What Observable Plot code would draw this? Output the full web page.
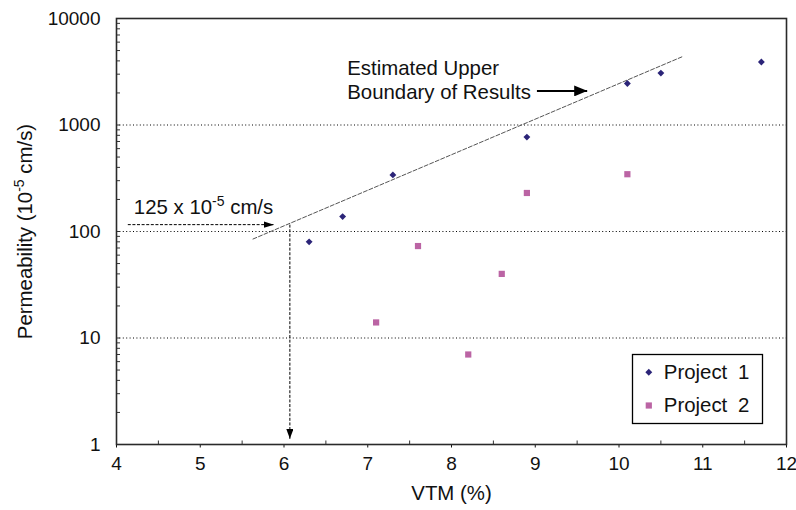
<!DOCTYPE html>
<html><head><meta charset="utf-8">
<script src="https://cdn.jsdelivr.net/npm/d3@7"></script>
<script src="https://cdn.jsdelivr.net/npm/@observablehq/plot@0.6"></script>
<style>body{margin:0;background:#fff} #chart{width:796px;height:510px}</style>
</head><body><div id="chart"></div>
<script>
// ---- data ----
const seriesNames = ["Project 1", "Project 2"];
const p1VTM  = [6.3, 6.7, 7.3, 8.9, 10.1, 10.5, 11.7];
const p1Perm = [80, 138, 340, 770, 2450, 3070, 3900];
const p2VTM  = [7.1, 7.6, 8.2, 8.6, 8.9, 10.1];
const p2Perm = [14, 73, 7, 40, 230, 345];
const boundaryVTM  = [5.63, 10.75];
const boundaryPerm = [85, 4360];
const xTicks = [4, 5, 6, 7, 8, 9, 10, 11, 12];
const xMinorTicks = [4.5, 5.5, 6.5, 7.5, 8.5, 9.5, 10.5, 11.5];
const yTicks = [1, 10, 100, 1000, 10000];
const gridY = [10, 100, 1000];
const xLabel = "VTM (%)";
const yLabel = "Permeability (10-5 cm/s)";
// annotations (data coordinates)
const readLabel = "125 x 10-5 cm/s";
const readLabelAt = [4.207, 169];
const readHArrow = [4.135, 5.88, 116];      // x1, x2, y
const readVArrow = [6.07, 116, 1.13];       // x, y1, y2
const boundaryLabel = "Estimated Upper\nBoundary of Results";
const boundaryLabelAt = [6.755, 2663];
const boundaryArrow = [9.02, 9.62, 2090];   // x1, x2, y

const navy = "#2b2478", pink = "#bb64a4";
const font = "'Liberation Sans', Arial, Helvetica, sans-serif";
const annoSize = 20.4;
const tickSize = 19;

const yMinorTicks = [];
for (const d of [1, 10, 100, 1000]) for (let k = 1; k <= 9; k++) yMinorTicks.push(d * k);
yMinorTicks.push(10000);

const p1 = p1VTM.map((x, i) => ({x, y: p1Perm[i]}));
const p2 = p2VTM.map((x, i) => ({x, y: p2Perm[i]}));
const boundary = boundaryVTM.map((x, i) => ({x, y: boundaryPerm[i]}));

function headMarker(len, half) {
  return () => {
    const m = d3.create("svg:marker")
      .attr("viewBox", `0 ${-half} ${len} ${2 * half}`)
      .attr("refX", len).attr("refY", 0)
      .attr("markerWidth", len).attr("markerHeight", 2 * half)
      .attr("markerUnits", "userSpaceOnUse")
      .attr("orient", "auto");
    m.append("path").attr("d", `M0,${-half}L${len},0L0,${half}Z`)
      .attr("fill", "#000").attr("stroke", "none");
    return m.node();
  };
}

const W = 796, H = 510, mL = 116, mR = 10, mT = 18, mB = 66;
const fw = W - mL - mR, fh = H - mT - mB;

const chart = Plot.plot({
  width: W, height: H,
  marginLeft: mL, marginRight: mR, marginTop: mT, marginBottom: mB,
  style: {fontFamily: font, fontSize: tickSize + "px", color: "#111", background: "#fff"},
  x: {domain: [4, 12]},
  y: {type: "log", domain: [1, 10000]},
  marks: [
    Plot.ruleY(gridY, {stroke: "#000", strokeDasharray: "1,2.4", strokeWidth: 1.1}),
    Plot.line(boundary, {x: "x", y: "y", stroke: "#555", strokeWidth: 1, strokeDasharray: "4,2"}),
    Plot.link([readHArrow], {x1: d => d[0], x2: d => d[1], y1: d => d[2], y2: d => d[2],
      stroke: "#000", strokeWidth: 1, strokeDasharray: "3,1.6", markerEnd: headMarker(10, 3.2)}),
    Plot.link([readVArrow], {x1: d => d[0], x2: d => d[0], y1: d => d[1], y2: d => d[2],
      stroke: "#000", strokeWidth: 1, strokeDasharray: "3,1.6", markerEnd: headMarker(10, 3.6)}),
    Plot.link([boundaryArrow], {x1: d => d[0], x2: d => d[1], y1: d => d[2], y2: d => d[2],
      stroke: "#000", strokeWidth: 2, markerEnd: headMarker(13, 5.5)}),
    Plot.text([readLabel], {x: () => readLabelAt[0], y: () => readLabelAt[1], text: d => d,
      textAnchor: "start", lineAnchor: "middle", fontSize: annoSize, fill: "#111"}),
    Plot.text([boundaryLabel], {x: () => boundaryLabelAt[0], y: () => boundaryLabelAt[1], text: d => d,
      textAnchor: "start", lineAnchor: "middle", lineHeight: 1.15, fontSize: annoSize, fill: "#111"}),
    Plot.dot(p1, {x: "x", y: "y", symbol: "diamond2", r: 3.1, fill: navy, stroke: null}),
    Plot.dot(p2, {x: "x", y: "y", symbol: "square", r: 3.5, fill: pink, stroke: null}),
    // inward minor ticks
    Plot.tickX(xMinorTicks, {x: d => d, insetTop: fh - 3.5, stroke: "#333"}),
    Plot.tickY(yMinorTicks, {y: d => d, insetRight: fw - 4, stroke: "#333"}),
    Plot.axisX({ticks: xTicks, tickSize: 3.5, tickPadding: 8, tickFormat: d => String(d), label: null, fontSize: tickSize}),
    Plot.axisY({ticks: yTicks, tickSize: 0, tickPadding: 16, tickFormat: d => String(d), label: null, fontSize: tickSize}),
    Plot.frame({stroke: "#2a2a2a", strokeWidth: 1.6}),
    // legend
    Plot.frame({fill: "#fff", stroke: "#000", strokeWidth: 1.3,
      insetLeft: 632 - mL, insetRight: W - mR - 762, insetTop: 354 - mT, insetBottom: H - mB - 423}),
    Plot.dot([seriesNames[0]], {x: null, y: null, frameAnchor: "bottom-right", dx: 648.3 - (W - mR), dy: 371.7 - (H - mB),
      symbol: "diamond2", r: 3.1, fill: navy, stroke: null}),
    Plot.dot([seriesNames[1]], {x: null, y: null, frameAnchor: "bottom-right", dx: 648.3 - (W - mR), dy: 405 - (H - mB),
      symbol: "square", r: 3.5, fill: pink, stroke: null}),
    Plot.text([seriesNames[0]], {frameAnchor: "bottom-right", dx: 663.3 - (W - mR), dy: 371.7 - (H - mB),
      textAnchor: "start", lineAnchor: "middle", fontSize: annoSize, fill: "#111"}),
    Plot.text([seriesNames[1]], {frameAnchor: "bottom-right", dx: 663.3 - (W - mR), dy: 405 - (H - mB),
      textAnchor: "start", lineAnchor: "middle", fontSize: annoSize, fill: "#111"}),
    // axis titles
    Plot.text([xLabel], {frameAnchor: "bottom", dy: 49, textAnchor: "middle", lineAnchor: "middle", fontSize: annoSize, fill: "#111"}),
    Plot.text([yLabel], {frameAnchor: "left", dx: -91, rotate: -90, textAnchor: "middle", lineAnchor: "middle", fontSize: annoSize, fill: "#111"})
  ]
});

// make sure tick labels use the intended size
d3.select(chart).selectAll('g[aria-label$="tick label"]').attr("font-size", tickSize)
  .selectAll("text").style("font-size", tickSize + "px");

// superscripts for "10-5"
d3.select(chart).selectAll("text").each(function() {
  const t = this.textContent;
  const i = t.indexOf("10-5");
  if (i < 0 || this.querySelector("tspan")) return;
  const sel = d3.select(this);
  sel.text(null);
  sel.append("tspan").text(t.slice(0, i + 2));
  sel.append("tspan").attr("dy", -8).attr("font-size", 14).text("-5");
  sel.append("tspan").attr("dy", 8).text(t.slice(i + 4));
});
// widen word gap in legend labels like the reference
d3.select(chart).selectAll("text").filter(function() { return /^Project /.test(this.textContent); })
  .attr("word-spacing", 5);

document.getElementById("chart").appendChild(chart);
</script>
</body></html>
